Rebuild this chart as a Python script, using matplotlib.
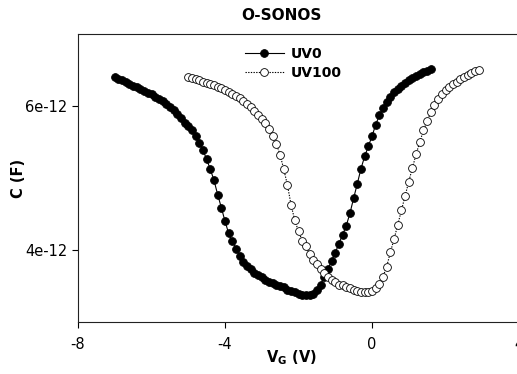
import matplotlib
matplotlib.use("Agg")
import matplotlib.pyplot as plt
import numpy as np

plt.rcParams['font.family'] = ['DejaVu Sans']
plt.rcParams['mathtext.fontset'] = 'dejavusans'

# Gate voltage (V) for each series
vg_uv0 = [-7.0, -6.9, -6.8, -6.7, -6.6, -6.5, -6.4, -6.3, -6.2, -6.1,
          -6.0, -5.9, -5.8, -5.7, -5.6, -5.5, -5.4, -5.3, -5.2, -5.1,
          -5.0, -4.9, -4.8, -4.7, -4.6, -4.5, -4.4, -4.3, -4.2, -4.1,
          -4.0, -3.9, -3.8, -3.7, -3.6, -3.5, -3.4, -3.3, -3.2, -3.1,
          -3.0, -2.9, -2.8, -2.7, -2.6, -2.5, -2.4, -2.3, -2.2, -2.1,
          -2.0, -1.9, -1.8, -1.7, -1.6, -1.5, -1.4, -1.3, -1.2, -1.1,
          -1.0, -0.9, -0.8, -0.7, -0.6, -0.5, -0.4, -0.3, -0.2, -0.1,
          0.0, 0.1, 0.2, 0.3, 0.4, 0.5, 0.6, 0.7, 0.8, 0.9,
          1.0, 1.1, 1.2, 1.3, 1.4, 1.5, 1.6]
# Capacitance (pF)
c_uv0 = [6.40, 6.38, 6.36, 6.33, 6.31, 6.28, 6.26, 6.23, 6.21, 6.18,
         6.16, 6.13, 6.10, 6.07, 6.03, 5.99, 5.94, 5.89, 5.83, 5.77,
         5.72, 5.66, 5.58, 5.49, 5.39, 5.26, 5.12, 4.97, 4.77, 4.59,
         4.40, 4.23, 4.12, 4.02, 3.92, 3.84, 3.78, 3.73, 3.68, 3.65,
         3.62, 3.59, 3.56, 3.54, 3.52, 3.50, 3.48, 3.45, 3.43, 3.41,
         3.39, 3.38, 3.37, 3.37, 3.39, 3.44, 3.52, 3.62, 3.73, 3.85,
         3.96, 4.09, 4.21, 4.34, 4.51, 4.72, 4.92, 5.13, 5.30, 5.44,
         5.58, 5.74, 5.87, 5.97, 6.06, 6.13, 6.19, 6.24, 6.28, 6.32,
         6.36, 6.39, 6.42, 6.45, 6.47, 6.49, 6.51]

vg_uv100 = [-5.0, -4.9, -4.8, -4.7, -4.6, -4.5, -4.4, -4.3, -4.2, -4.1,
            -4.0, -3.9, -3.8, -3.7, -3.6, -3.5, -3.4, -3.3, -3.2, -3.1,
            -3.0, -2.9, -2.8, -2.7, -2.6, -2.5, -2.4, -2.3, -2.2, -2.1,
            -2.0, -1.9, -1.8, -1.7, -1.6, -1.5, -1.4, -1.3, -1.2, -1.1,
            -1.0, -0.9, -0.8, -0.7, -0.6, -0.5, -0.4, -0.3, -0.2, -0.1,
            0.0, 0.1, 0.2, 0.3, 0.4, 0.5, 0.6, 0.7, 0.8, 0.9,
            1.0, 1.1, 1.2, 1.3, 1.4, 1.5, 1.6, 1.7, 1.8, 1.9,
            2.0, 2.1, 2.2, 2.3, 2.4, 2.5, 2.6, 2.7, 2.8, 2.9]
c_uv100 = [6.40, 6.39, 6.37, 6.36, 6.34, 6.32, 6.31, 6.29, 6.27, 6.25,
           6.22, 6.20, 6.17, 6.14, 6.11, 6.07, 6.03, 5.98, 5.93, 5.87,
           5.82, 5.76, 5.68, 5.59, 5.47, 5.32, 5.12, 4.90, 4.62, 4.41,
           4.26, 4.13, 4.05, 3.95, 3.86, 3.80, 3.74, 3.68, 3.63, 3.58,
           3.55, 3.52, 3.51, 3.49, 3.47, 3.45, 3.43, 3.42, 3.41, 3.41,
           3.43, 3.47, 3.53, 3.63, 3.77, 3.97, 4.15, 4.35, 4.55, 4.75,
           4.95, 5.14, 5.33, 5.50, 5.66, 5.79, 5.91, 6.02, 6.10, 6.16,
           6.22, 6.26, 6.30, 6.34, 6.37, 6.40, 6.43, 6.46, 6.48, 6.50]

series_labels = ["UV0", "UV100"]
title_text = "O-SONOS"
x_ticks = [-8, -4, 0, 4]
x_tick_labels = ["-8", "-4", "0", "4"]
y_ticks = [4e-12, 6e-12]
y_tick_labels = ["4e-12", "6e-12"]

fig = plt.figure(figsize=(5.17, 3.74), dpi=100)
ax = fig.add_axes([78/517, 1-322/374, 441/517, 288/374])

ax.plot(np.array(vg_uv0), np.array(c_uv0)*1e-12, color='black', lw=0.8,
        marker='o', markersize=5.6, markerfacecolor='black',
        markeredgecolor='black', markeredgewidth=0.6, label=series_labels[0])
ax.plot(np.array(vg_uv100), np.array(c_uv100)*1e-12, color='black', lw=0.8,
        linestyle=(0, (1.2, 1.2)),
        marker='o', markersize=5.6, markerfacecolor='white',
        markeredgecolor='black', markeredgewidth=0.6, label=series_labels[1])

ax.set_xlim(-8, 4)
ax.set_ylim(3e-12, 7e-12)
ax.set_xticks(x_ticks)
ax.set_xticklabels(x_tick_labels)
ax.set_yticks(y_ticks)
ax.set_yticklabels(y_tick_labels)
ax.tick_params(direction='out', length=4.5, width=0.8, labelsize=10.5,
               colors='black')
ax.tick_params(axis='x', pad=6)
ax.tick_params(axis='y', pad=3)
for s in ['left', 'bottom', 'top', 'right']:
    ax.spines[s].set_linewidth(0.8)
    ax.spines[s].set_color('#222222')

ax.set_ylabel("C (F)", fontsize=10.5, fontweight='bold')
ax.yaxis.set_label_coords(-0.118, 0.5)
ax.set_xlabel(r"V$_\mathbf{G}$ (V)", fontsize=10.5, fontweight='bold')
ax.xaxis.set_label_coords(0.483, -0.092)

fig.text(281/517, 1-15/374, title_text, ha='center', va='center',
         fontsize=11, fontweight='bold')

leg = ax.legend(loc='upper left', bbox_to_anchor=((245-78)/441, (322-47)/288),
                frameon=False, numpoints=1, handlelength=2.8,
                handletextpad=0.5, labelspacing=0.35, borderpad=0,
                borderaxespad=0, prop={'weight': 'bold', 'size': 10})

fig.savefig("out.png", dpi=100)
